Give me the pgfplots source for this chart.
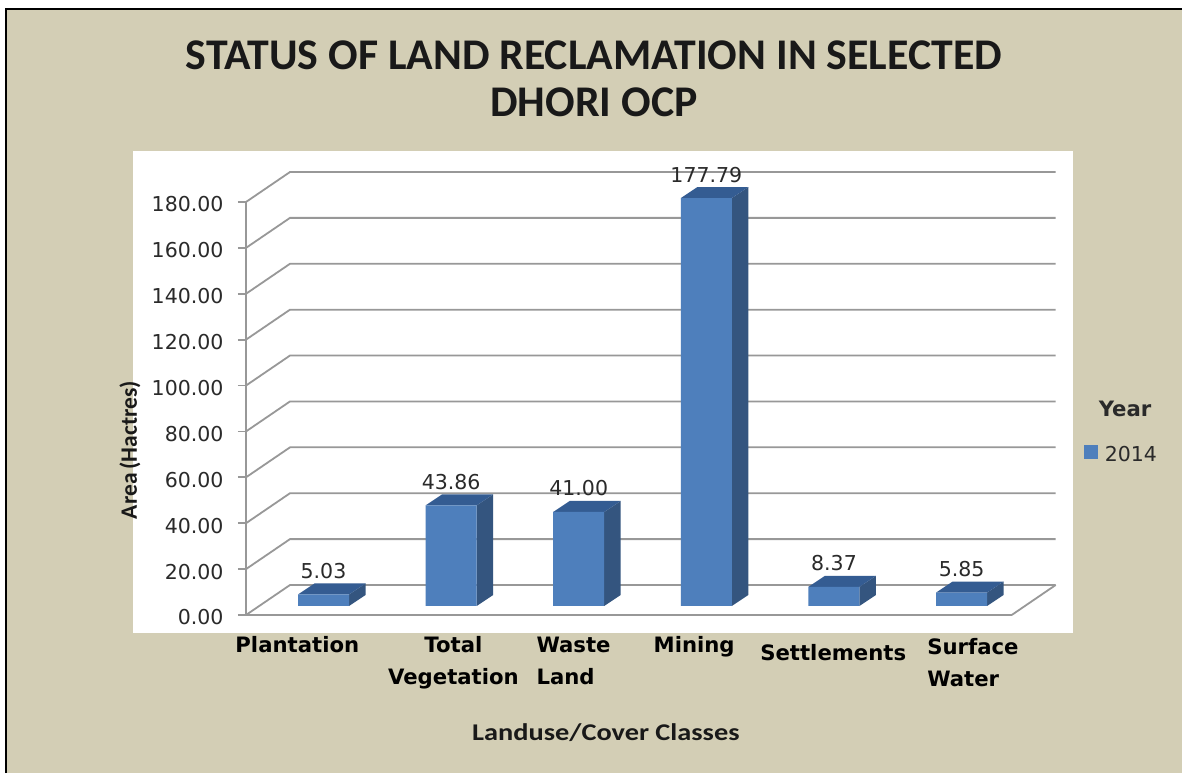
\documentclass[border=0pt]{standalone}
\usepackage{fontspec}
\usepackage{pgfplots}
\usepackage{pgfplotstable}
\pgfplotsset{compat=1.18}
\setmainfont{DejaVu Sans}
\newfontfamily\carlito{Carlito}
\newfontfamily\carlitowide[FakeStretch=1.18]{Carlito}

\definecolor{panelbg}{HTML}{D3CEB5}
\definecolor{barfront}{HTML}{4E7FBC}
\definecolor{barside}{HTML}{34557F}
\definecolor{bartop}{HTML}{345C92}
\definecolor{gridgray}{HTML}{989898}
\definecolor{inktext}{HTML}{2A2A2A}

% 1pt here is one pixel of the reference
% x unit = 127.617, y unit = 2.2944 per value
\pgfplotstableread{
idx value
0 5.03
1 43.86
2 41.00
3 177.79
4 8.37
5 5.85
}\landuse

% side and top face of the bar at category #1
\newcommand\barfaces[1]{%
  \pgfplotstablegetelem{#1}{value}\of\landuse
  \pgfmathsetmacro\xl{#1+13.7/127.617-25.5/127.617}
  \pgfmathsetmacro\xr{#1+13.7/127.617+25.5/127.617}
  \pgfmathsetmacro\xb{\xr+16.5/127.617}
  \pgfmathsetmacro\xc{\xl+16.5/127.617}
  \pgfmathsetmacro\yb{9/2.2944}
  \pgfmathsetmacro\yt{\pgfplotsretval+9/2.2944}
  \pgfmathsetmacro\ybb{\yb+11/2.2944}
  \pgfmathsetmacro\ytb{\yt+11/2.2944}
  \addplot[fill=barside,draw=none,forget plot] coordinates {(\xr,\yb) (\xb,\ybb) (\xb,\ytb) (\xr,\yt) (\xr,\yb)};
  \addplot[fill=bartop,draw=none,forget plot] coordinates {(\xl,\yt) (\xr,\yt) (\xb,\ytb) (\xc,\ytb) (\xl,\yt)};
}

% tick label: x offset (doubled), baseline below the tick, alignment, text
\newcommand\cat[4]{\makebox[0pt]{\hspace*{#1pt}\rule{0pt}{#2pt}\begin{tabular}[t]{@{}#3@{}}#4\end{tabular}}}

\begin{document}
\begin{tikzpicture}
\useasboundingbox (0,0) rectangle (1182pt,773pt);
\fill[white] (0,0) rectangle (1182pt,773pt);
\fill[panelbg] (6pt,0) rectangle (1182pt,764pt);
\draw[black,line width=2pt] (6pt,0) -- (6pt,764pt) -- (1182pt,764pt);
\fill[white] (133pt,140pt) rectangle (1073pt,622pt);
\begin{axis}[
  at={(246pt,158pt)}, anchor=south west,
  scale only axis, width=765.7pt, height=413pt,
  clip=false,
  xmin=-0.5, xmax=5.5, ymin=0, ymax=180,
  axis lines=left,
  axis line style={gridgray,line width=1.8pt,-},
  xtick={0,...,5},
  xticklabels={
    {\cat{-25}{29}{c}{Plantation}},
    {\cat{32}{29}{c}{Total\\[8pt]Vegetation}},
    {\cat{17}{29}{l}{Waste\\[8pt]Land}},
    {\cat{3}{29}{c}{Mining}},
    {\cat{26}{37}{c}{Settlements}},
    {\cat{50}{31}{l}{Surface\\[8pt]Water}}},
  x tick style={draw=none},
  xticklabel style={anchor=north,inner sep=0pt,font=\fontsize{21.2}{24}\selectfont\bfseries,text=black},
  ytick={0,20,...,180},
  y tick style={gridgray,line width=1.8pt},
  tick align=outside, major tick length=8pt,
  yticklabel style={font=\fontsize{20.5}{24}\selectfont,text=inktext,xshift=-11pt,yshift=-2.5pt,
    /pgf/number format/fixed,/pgf/number format/fixed zerofill,/pgf/number format/precision=2,
    /pgf/number format/assume math mode=true},
  scaled y ticks=false,
  title={STATUS OF LAND RECLAMATION IN SELECTED\\DHORI OCP},
  title style={at={(axis description cs:0.4545,1.3855)},anchor=north,align=center,
    font=\fontsize{43.8}{47}\selectfont\carlito\bfseries,text=black!90},
  xlabel={Landuse/Cover Classes},
  xlabel style={at={(axis description cs:0.470,-0.305)},anchor=base,
    font=\fontsize{24}{28}\selectfont\carlitowide\bfseries,text=black!90},
  ylabel={Area\,(Hactres)},
  ylabel style={at={(axis description cs:-0.1515,0.3995)},anchor=center,rotate=0,
    font=\fontsize{23.5}{28}\selectfont\carlito\bfseries,text=black!90},
  legend style={at={(axis description cs:1.09,0.528)},anchor=north west,draw=none,fill=none,
    font=\fontsize{20.5}{24}\selectfont,text=inktext,row sep=24pt,legend cell align=left},
]
% back wall and floor lines
\pgfplotsinvokeforeach{0,20,...,180}{
  \pgfmathsetmacro\yback{#1+30/2.2944}
  \addplot[gridgray,line width=1.8pt,forget plot] coordinates {(-0.5,#1) (-0.1552,\yback) (5.8448,\yback)};
}
\addplot[gridgray,line width=1.8pt,forget plot] coordinates {(5.5,0) (5.8448,13.08)};

\pgfplotsinvokeforeach{0,...,5}{\barfaces{#1}}

\addlegendimage{empty legend}
\addlegendentry{\hspace*{-1pt}\fontsize{21.2}{24}\selectfont\bfseries Year}
\addplot[ybar,bar width=51pt,bar shift=13.7pt,yshift=9pt,fill=barfront,draw=none,
  legend image code/.code={\fill[barfront] (0pt,-14pt) rectangle (14pt,0pt);},
  point meta=y,
  nodes near coords,
  nodes near coords style={/pgf/number format/fixed,/pgf/number format/fixed zerofill,
    /pgf/number format/precision=2,/pgf/number format/assume math mode=true,
    font=\fontsize{20.5}{24}\selectfont,text=inktext,anchor=base,xshift=13.7pt,yshift=16pt,inner sep=0pt},
] table[x=idx,y=value] {\landuse};
\addlegendentry{\hspace*{5pt}2014}
\end{axis}
\end{tikzpicture}
\end{document}
